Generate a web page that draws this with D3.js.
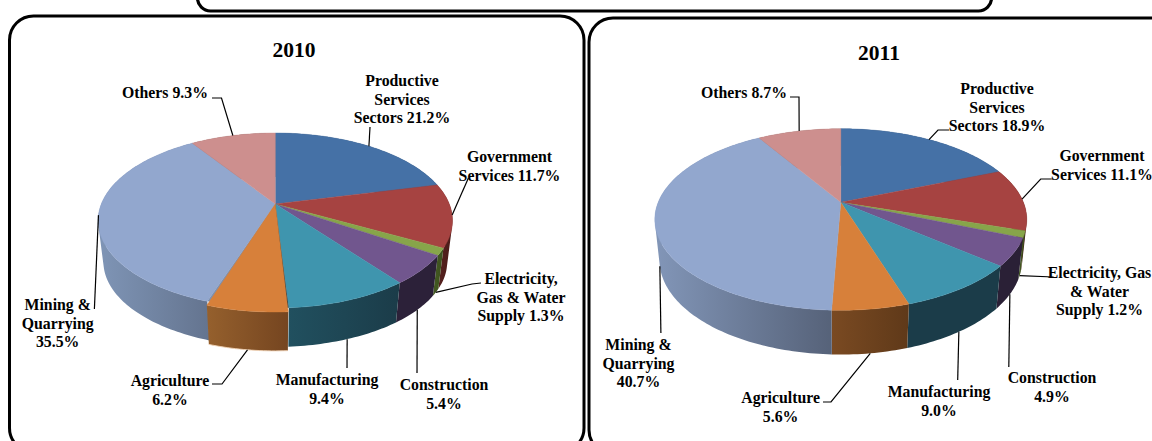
<!DOCTYPE html>
<html><head><meta charset="utf-8">
<script src="https://cdn.jsdelivr.net/npm/d3@7/dist/d3.min.js"></script>
<style>html,body{margin:0;padding:0;background:#fff;overflow:hidden}svg{display:block}text{font-family:"Liberation Serif",serif;font-weight:700;fill:#000}</style>
</head><body><svg id="c" width="1152" height="441"></svg>
<script>
const categories = ["Productive Services Sectors","Government Services","Electricity, Gas & Water Supply","Construction","Manufacturing","Agriculture","Mining & Quarrying","Others"];
const values2010 = [21.2,11.7,1.3,5.4,9.4,6.2,35.5,9.3];
const values2011 = [18.9,11.1,1.2,4.9,9.0,5.6,40.7,8.7];
const labels2010 = [["Productive","Services","Sectors 21.2%"],["Government","Services 11.7%"],["Electricity,","Gas & Water","Supply 1.3%"],["Construction","5.4%"],["Manufacturing","9.4%"],["Agriculture","6.2%"],["Mining &","Quarrying","35.5%"],["Others 9.3%"]];
const labels2011 = [["Productive","Services","Sectors 18.9%"],["Government","Services 11.1%"],["Electricity, Gas","& Water","Supply 1.2%"],["Construction","4.9%"],["Manufacturing","9.0%"],["Agriculture","5.6%"],["Mining &","Quarrying","40.7%"],["Others 8.7%"]];
const topColors = ["#4571a6","#a64341","#87a54a","#71568e","#3f95ae","#d7803a","#92a7ce","#cd8f8e"];
const wallLeft2010 = ["#2b4568","#5b2522","#445a22","#2c2139","#21505f","#95602d","#7f95b6","#7d5756"];
const wallRight2010 = ["#2b4568","#4a1a18","#3c501e","#2c2139","#1b3c49","#754520","#64748f","#7d5756"];
const wallLeft2011 = ["#2b4568","#5b2522","#445a22","#2a2036","#1b3c49","#7a4a22","#8296b8","#7d5756"];
const wallRight2011 = ["#2b4568","#4a1a18","#3c501e","#2a2036","#1b3c49","#5f3919","#566279","#7d5756"];
// which rim each leader attaches to
const anchorFace = ["top","top","bottom","bottom","bottom","bottom","top","top"];
const anchorFace2011 = ["top","top","bottom","bottom","bottom","bottom","bottom","top"];

const panels = [
 {id:"a",title:"2010",tx:294,ty:50,values:values2010,labels:labels2010,wl:wallLeft2010,wr:wallRight2010,faces:anchorFace,
  cx:275.3,cy:204,rx:174,ry:84.4,persp:.1886,sx:.97,sy:.97,dy:42,explode:{5:[-.5,4]},
  frame:[9.5,16,574.5,436],
  pos:[[402,80],[509.5,156],[521,278],[444,384],[327,379],[170,380],[57.7,304],[165,92]],
  elbows:[[[370,127]],[[468.4,178]],[[481,283],[472,284]],[[417,373]],[[347,368]],[[212,384],[222,384]],[[94.4,309]],[[212,98],[221.5,98]]]},
 {id:"b",title:"2011",tx:879,ty:53,values:values2011,labels:labels2011,wl:wallLeft2011,wr:wallRight2011,faces:anchorFace2011,
  cx:840.8,cy:202.3,rx:182.6,ry:87.5,persp:.1894,sx:.975,sy:1.04,dy:40,explode:{},
  frame:[589,18,600,436],
  pos:[[997,88],[1102,155],[1099.5,272],[1052,377],[939,391],[780.6,397],[638.5,344],[744,92]],
  elbows:[[[949,130],[938,130]],[[1051.7,179],[1040.7,179]],[[1053.6,277]],[[1008.8,367]],[[957.7,380]],[[823,402],[831,402]],[[660.9,333]],[[790,97],[799,97]]]}
];

const svg = d3.select("#c");
const defs = svg.append("defs");
// upper box
svg.append("rect").attr("x",197.5).attr("y",-40).attr("width",794).attr("height",51).attr("rx",13)
   .attr("fill","#fff").attr("stroke","#000").attr("stroke-width",3.2);

const pie = d3.pie().sort(null).startAngle(0).endAngle(2*Math.PI);
const line = d3.line();

panels.forEach(p=>{
  const g = svg.append("g");
  g.append("rect").attr("x",p.frame[0]).attr("y",p.frame[1]).attr("width",p.frame[2]).attr("height",p.frame[3]).attr("rx",24)
   .attr("fill","#fff").attr("stroke","#000").attr("stroke-width",3);
  const arcs = pie(p.values);
  const project=(a,face,off)=>{
    const X=Math.sin(a),Y=-Math.cos(a),w=1-p.persp*Y;
    const o=off||[0,0];
    if(face==="top") return [p.cx+o[0]+p.rx*X/w, p.cy+o[1]+p.ry*Y/w];
    return [p.cx+o[0]+p.sx*p.rx*X/w, p.cy+o[1]+p.dy+p.sy*p.ry*Y/w];
  };
  const rimAB=(a0,a1,face,off)=>{
    const n=Math.max(4,Math.ceil((a1-a0)/0.02));
    return d3.range(n+1).map(i=>project(a0+(a1-a0)*i/n,face,off));
  };
  const rim=(d,face,off)=>rimAB(d.startAngle,d.endAngle,face,off);
  // wall = union of consistently wound quads, so the silhouette is closed
  const wallPath=(d,off)=>{
    const t=rim(d,"top",off),b=rim(d,"bottom",off);
    let s="";
    for(let i=0;i<t.length-1;i++){
      let q=[t[i],t[i+1],b[i+1],b[i]];
      if(d3.polygonArea(q)<0) q=q.reverse();
      s+=line(q)+"Z";
    }
    return s;
  };
  const order = arcs.map((d,i)=>i).sort((a,b)=>(!!p.explode[a])-(!!p.explode[b]));
  const walls = g.append("g"), tops = g.append("g");
  order.forEach(i=>{
    const d=arcs[i], off=p.explode[i];
    const gid="w"+p.id+i;
    const lg=defs.append("linearGradient").attr("id",gid);
    lg.append("stop").attr("offset",0).attr("stop-color",p.wl[i]);
    lg.append("stop").attr("offset",1).attr("stop-color",p.wr[i]);
    walls.append("path").attr("d",wallPath(d,off)).attr("fill",`url(#${gid})`);
    if(off){
      // light fringe under the pulled-out slice
      walls.append("path").attr("d",line(rim(d,"bottom",off))).attr("fill","none").attr("stroke","#f0d3b6").attr("stroke-width",.9);
    }
  });
  order.forEach(i=>{
    const d=arcs[i], off=p.explode[i];
    const apex=[p.cx,p.cy];
    if(off){
      // shaded seams either side of the pulled-out slice
      const m=(d.startAngle+d.endAngle)/2;
      tops.append("path").attr("d",line([apex].concat(rimAB(d.startAngle,m,"top")))+"Z").attr("fill","#1b3c49");
      tops.append("path").attr("d",line([apex].concat(rimAB(m,d.endAngle,"top")))+"Z").attr("fill","#7c90b2");
    }
    const pts=[apex].concat(rim(d,"top",off));
    tops.append("path").attr("d",line(pts)+"Z").attr("fill",topColors[i])
      .attr("stroke",topColors[i]).attr("stroke-width",.4);
  });
  // leaders
  arcs.forEach((d,i)=>{
    const mid=(d.startAngle+d.endAngle)/2;
    const end=project(mid,p.faces[i],p.explode[i]);
    g.append("path").attr("d",line(p.elbows[i].concat([end]))).attr("fill","none").attr("stroke","#000").attr("stroke-width",1.2);
  });
  // labels
  p.labels.forEach((ls,i)=>{
    const t=g.append("text").attr("text-anchor","middle").attr("font-size",15.8);
    ls.forEach((s,j)=>t.append("tspan").attr("x",p.pos[i][0]).attr("y",p.pos[i][1]+5.8+j*18.8).text(s));
  });
  g.append("text").attr("x",p.tx).attr("y",p.ty+7).attr("text-anchor","middle").attr("font-size",21.5).text(p.title);
});
</script></body></html>
